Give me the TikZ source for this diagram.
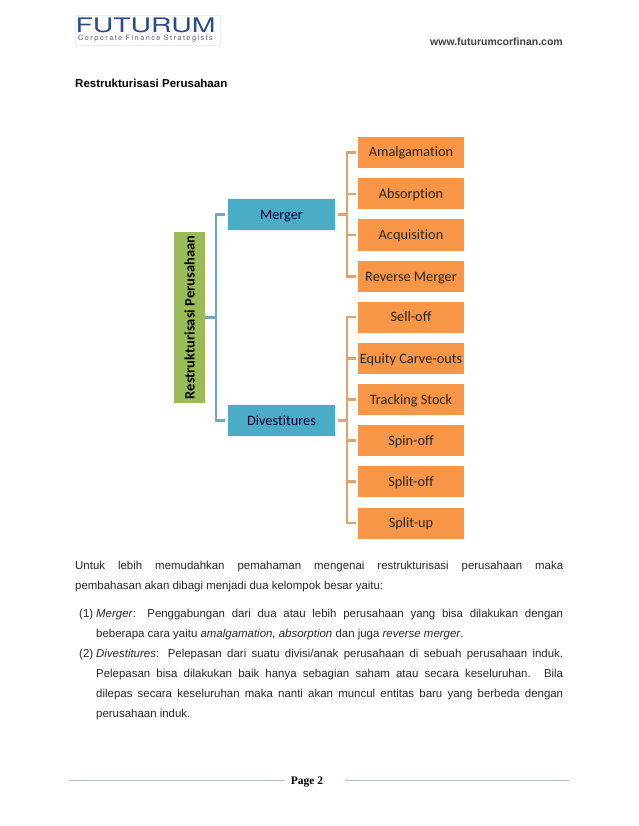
\documentclass[tikz,border=0pt]{standalone}
\usepackage{fontspec}
\setmainfont{Liberation Sans}
\newfontfamily\boxfont[Ligatures=NoCommon]{Carlito}
\newfontfamily\pagefont{Liberation Serif}
\newfontfamily\logofont{TeX Gyre Heros}
\definecolor{leaforange}{HTML}{F79646}
\definecolor{midblue}{HTML}{4BACC6}
\definecolor{rootgreen}{HTML}{9BBB59}
\definecolor{linkorange}{HTML}{E0A26E}
\definecolor{linkblue}{HTML}{6FABBD}
\definecolor{logoblue}{HTML}{2B4A8B}
\tikzset{
  leafbox/.style={fill=leaforange,minimum width=106pt,minimum height=31pt,inner sep=0pt,text height=9.5pt,text depth=0.5pt,
    text=black!85,font=\boxfont\fontsize{14.3}{16}\selectfont},
  midbox/.style={fill=midblue,draw=midblue!12,line width=0.6pt,minimum width=108pt,minimum height=32pt,inner sep=0pt,text height=9.5pt,text depth=0.5pt,
    text=black!80!blue,font=\boxfont\fontsize{14.3}{16}\selectfont},
  rootbox/.style={fill=rootgreen,minimum width=171pt,minimum height=31pt,inner sep=0pt,rotate=90,
    font=\boxfont\bfseries\fontsize{14.5}{16}\selectfont},
  leaflink/.style={draw=linkorange,line width=2.2pt,shorten >=2pt,shorten <=2pt},
  midlink/.style={draw=linkblue,line width=2.2pt,shorten >=2pt},
  bodytext/.style={anchor=north west,inner sep=0pt,align=justify,font=\fontsize{11.45}{20}\selectfont,text=black!85},
  plaintext/.style={anchor=base west,inner sep=0pt,font=\bfseries\fontsize{11.5}{12}\selectfont}
}
\begin{document}
\begin{tikzpicture}[x=1pt,y=-1pt]
  \useasboundingbox (0,0) rectangle (638,826);
  % page head
  \node[draw=blue!8,line width=0.5pt,minimum width=145pt,minimum height=30pt,inner sep=0pt] (logobox) at (147.5,30.5) {};
  \node[inner sep=0pt,text=logoblue,xscale=1.42,font=\logofont\fontsize{20}{20}\selectfont] (logoname) at (145.5,25) {FUTURUM};
  \node[inner sep=0pt,text=logoblue!60!gray,font=\logofont\fontsize{7.3}{7.3}\selectfont] (logosub) at (145.5,38.5)
    {\addfontfeature{LetterSpace=20}Corporate Finance Strategists};
  \node[plaintext,anchor=base east,text=black!75,font=\bfseries\fontsize{10.5}{12}\selectfont] (site) at (563,46) {www.futurumcorfinan.com};
  \node[plaintext] (title) at (75,88) {Restrukturisasi Perusahaan};

  % chart
  \node[rootbox] (root) at (189.5,317.5) {Restrukturisasi Perusahaan};
  \node[midbox] (merger) at (281.5,214.5) {Merger};
  \node[midbox] (divest) at (281.5,420.5) {Divestitures};
  \foreach \nm/\lbl/\y in {amal/Amalgamation/152.5,absorp/Absorption/194,acqui/Acquisition/235,revm/Reverse Merger/276.5,
      selloff/Sell-off/317,carve/Equity Carve-outs/358.5,track/Tracking Stock/399.5,spin/Spin-off/440.5,
      splito/Split-off/481.5,splitu/Split-up/523}
    \node[leafbox] (\nm) at (411,\y) {\lbl};
  \draw[midlink] (root.south) -- ++(11,0) coordinate (rootbus) |- (merger.west);
  \draw[midlink] (rootbus) |- (divest.west);
  \foreach \nm in {amal,absorp,acqui,revm}
    \draw[leaflink] (merger.east) -- ++(11,0) |- (\nm.west);
  \foreach \nm in {selloff,carve,track,spin,splito,splitu}
    \draw[leaflink] (divest.east) -- ++(11,0) |- (\nm.west);

  % body text
  \node[bodytext,text width=488pt] (intro) at (75,561) {Untuk lebih memudahkan pemahaman mengenai restrukturisasi perusahaan maka\linebreak
    pembahasan akan dibagi menjadi dua kelompok besar yaitu:};
  \node[bodytext] (numa) at (79,609) {(1)};
  \node[bodytext,text width=467pt] (itema) at (96,609) {\textit{Merger}: Penggabungan dari dua atau lebih perusahaan yang bisa dilakukan dengan\linebreak
    beberapa cara yaitu \textit{amalgamation, absorption} dan juga \textit{reverse merger}.};
  \node[bodytext] (numb) at (79,649) {(2)};
  \node[bodytext,text width=467pt] (itemb) at (96,649) {\textit{Divestitures}: Pelepasan dari suatu divisi/anak perusahaan di sebuah perusahaan induk.\linebreak
    Pelepasan bisa dilakukan baik hanya sebagian saham atau secara keseluruhan. Bila\linebreak
    dilepas secara keseluruhan maka nanti akan muncul entitas baru yang berbeda dengan\linebreak
    perusahaan induk.};

  % page foot
  \node[inner sep=0pt,font=\pagefont\bfseries\fontsize{11.5}{12}\selectfont] (pagenum) at (307,782) {Page 2};
  \coordinate (footl) at (69,780);
  \coordinate (footr) at (569,780);
  \draw[draw=linkblue!50!gray!60,line width=0.7pt] (footl) -- (285,780);
  \draw[draw=linkblue!50!gray!60,line width=0.7pt] (345,780) -- (footr);
\end{tikzpicture}
\end{document}
